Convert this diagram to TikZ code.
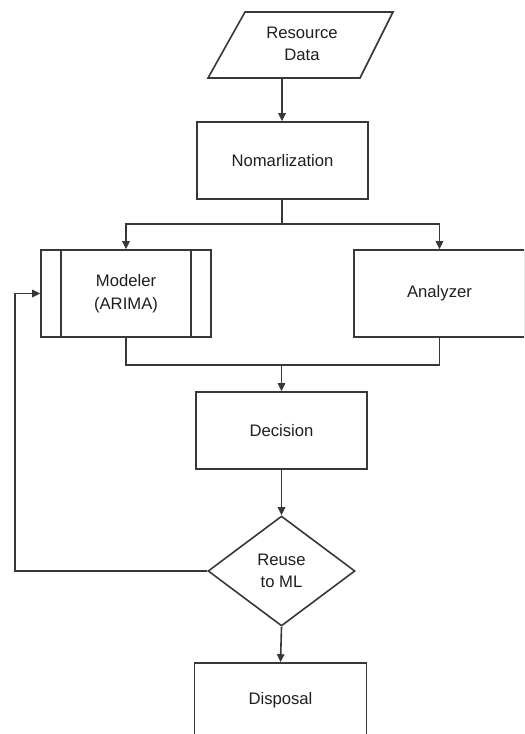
\documentclass[tikz,border=0pt]{standalone}
\usepackage{fontspec}
\setmainfont{Liberation Sans}
\usetikzlibrary{shapes.geometric,arrows.meta}
\begin{document}
\begin{tikzpicture}[x=0.75pt,y=-0.75pt,
  line/.style={draw=black!78,line width=1.2pt},
  arr/.style={line,-{Triangle[length=6pt,width=5.5pt]}},
  txt/.style={align=center,font=\fontsize{12.5}{17}\selectfont,text=black!88,inner sep=0pt},
  box/.style={txt,line,rectangle},
  dia/.style={txt,line,diamond}]
\clip (0,0) rectangle (524,734);
\fill[white] (0,0) rectangle (524,734);
% input parallelogram
\draw[line] (245,12) -- (393,12) -- (360,78) -- (208,78) -- cycle;
\node[txt] (data) at (302,44) {Resource\\Data};
\coordinate (dataout) at (282,78);
% boxes
\node[box,minimum width={171*0.75pt},minimum height={77*0.75pt}] (norm) at (282.5,160.5) {Nomarlization};
\node[box,minimum width={170*0.75pt},minimum height={87*0.75pt}] (model) at (126,293.5) {Modeler\\(ARIMA)};
\draw[line] ([xshift={21*0.75pt}]model.north west) -- ([xshift={21*0.75pt}]model.south west);
\draw[line] ([xshift={-21*0.75pt}]model.north east) -- ([xshift={-21*0.75pt}]model.south east);
\node[box,minimum width={171*0.75pt},minimum height={87*0.75pt}] (anal) at (439.5,293.5) {Analyzer};
\node[box,minimum width={171*0.75pt},minimum height={77*0.75pt}] (dec) at (281.5,430.5) {Decision};
\node[dia,minimum width={147*0.75pt},minimum height={110*0.75pt}] (reuse) at (281.5,571) {Reuse\\to ML};
\node[box,minimum width={172*0.75pt},minimum height={74*0.75pt}] (disp) at (280.5,700) {Disposal};
% connectors
\coordinate (split) at (282,224);
\coordinate (join) at (281.5,365);
\coordinate (fbcorner) at (15,571);
\draw[arr] (dataout) -- (dataout |- norm.north);
\draw[line] (norm.south -| split) -- (split);
\draw[arr] (split) -| (model.north);
\draw[arr] (split) -| (anal.north);
\draw[line] (model.south) |- (join) -| (anal.south);
\draw[arr] (join) -- (dec.north);
\draw[arr] (dec.south) -- (reuse.north);
\draw[arr] (reuse.south) -- (disp.north);
\draw[arr] (reuse.west) -- (fbcorner) |- (model.west);
\end{tikzpicture}
\end{document}
